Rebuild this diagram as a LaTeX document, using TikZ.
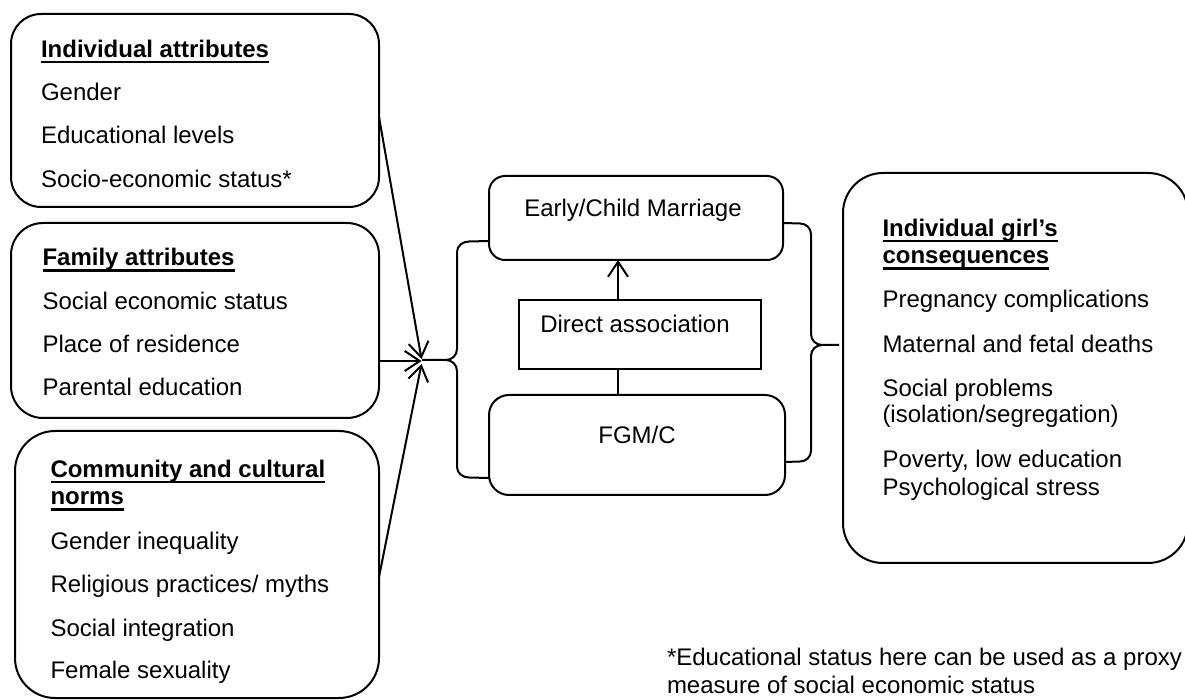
\documentclass[tikz,border=0pt]{standalone}
\usepackage{fontspec}
\setmainfont{Liberation Sans}
\usetikzlibrary{arrows.meta}
\newsavebox\ulbox
\newcommand\hul[1]{\sbox\ulbox{#1}\rlap{\rule[-2.8pt]{\wd\ulbox}{1.1pt}}\usebox\ulbox}
\begin{document}
\begin{tikzpicture}[x=0.5pt,y=-0.5pt,line width=1pt,
  txt/.style={anchor=base west,inner sep=0pt,font=\fontsize{12pt}{14pt}\selectfont},
  ctxt/.style={anchor=base,inner sep=0pt,font=\fontsize{12pt}{14pt}\selectfont},
  hd/.style={txt,font=\fontsize{12pt}{14pt}\selectfont\bfseries},
  rbox/.style={draw,inner sep=0pt,outer sep=0pt},
  arr/.style={-{Straight Barb[length=7.5pt,width=10pt]},line width=1pt}]
\useasboundingbox (0,0) rectangle (1185,700);
% boxes
\node[rbox,rounded corners=15pt,minimum width=184pt,minimum height=96.5pt] (b1) at (195,110.5) {};
\node[rbox,rounded corners=16pt,minimum width=184pt,minimum height=97.5pt] (b2) at (195,320.5) {};
\node[rbox,rounded corners=20pt,minimum width=182pt,minimum height=133.5pt] (b3) at (197,564.5) {};
\node[rbox,rounded corners=8pt,minimum width=147pt,minimum height=42pt] (em) at (636,218) {};
\node[rbox,line width=0.6pt,minimum width=121pt,minimum height=34.5pt] (da) at (640,334.5) {};
\node[rbox,rounded corners=10pt,minimum width=148pt,minimum height=50pt] (fg) at (637,445) {};
\node[rbox,rounded corners=20pt,minimum width=172.5pt,minimum height=195pt] (rb) at (1015.5,368) {};
% box 1 text
\node[hd] (t1a) at (40,57.3) {\hul{Individual attributes}};
\node[txt] (t1b) at (40,100.7) {Gender};
\node[txt] (t1c) at (40,144) {Educational levels};
\node[txt] (t1d) at (40,187.3) {Socio-economic status*};
% box 2 text
\node[hd] (t2a) at (41.5,266) {\hul{Family attributes}};
\node[txt] (t2b) at (41.5,309.5) {Social economic status};
\node[txt] (t2c) at (41.5,353) {Place of residence};
\node[txt] (t2d) at (41.5,396) {Parental education};
% box 3 text
\node[hd] (t3a) at (49.5,477.7) {\hul{Community and cultural}};
\node[hd] (t3b) at (49.5,505) {\hul{norms}};
\node[txt] (t3c) at (49.5,549.3) {Gender inequality};
\node[txt] (t3d) at (49.5,592.7) {Religious practices/ myths};
\node[txt] (t3e) at (49.5,636) {Social integration};
\node[txt] (t3f) at (49.5,678) {Female sexuality};
% centre text
\node[ctxt] (tem) at (633,216.7) {Early/Child Marriage};
\node[ctxt] (tda) at (635,332.7) {Direct association};
\node[ctxt] (tfg) at (637,443.3) {FGM/C};
% right box text
\node[hd] (t4a) at (881.5,236.7) {\hul{Individual girl’s}};
\node[hd] (t4b) at (881.5,264) {\hul{consequences}};
\node[txt] (t4c) at (881.5,308) {Pregnancy complications};
\node[txt] (t4d) at (881.5,353) {Maternal and fetal deaths};
\node[txt] (t4e) at (881.5,396.7) {Social problems};
\node[txt] (t4f) at (881.5,423) {(isolation/segregation)};
\node[txt] (t4g) at (881.5,468) {Poverty, low education};
\node[txt] (t4h) at (881.5,495) {Psychological stress};
% footnote
\node[txt] (fn1) at (666,665) {*Educational status here can be used as a proxy};
\node[txt] (fn2) at (666,693) {measure of social economic status};
% converging arrows
\coordinate (cv1) at (421.5,359);
\coordinate (cv2) at (421.5,361);
\coordinate (cv3) at (421.5,364);
\draw[arr] ([yshift=-3.25pt]b1.east) -- (cv1);
\draw[arr] ([yshift=-20.25pt]b2.east) -- (cv2);
\draw[arr] ([yshift=-6.25pt]b3.east) -- (cv3);
% left brace
\coordinate (lt) at (422,360);
\draw ([yshift=-11.5pt]em.west) -- (469,241.5) to[out=180,in=90] (457,252) -- (457,349)
      to[out=-90,in=0] (446,360) -- (lt);
\draw (446,360) to[out=0,in=90] (457,371) -- (457,467) to[out=-90,in=180] (469,477.5)
      -- ([yshift=-16.5pt]fg.west);
% right brace
\coordinate (rt) at (839,345);
\draw ([yshift=-2.5pt]em.east) -- (800,223.5) to[out=0,in=90] (811,234) -- (811,334)
      to[out=-90,in=180] (822,345) -- (rt);
\draw (822,345) to[out=180,in=90] (811,356) -- (811,451) to[out=-90,in=0] (800,461.5)
      -- ([yshift=-8.5pt]fg.east);
% direct association
\draw[arr] ([xshift=-11pt]da.north) -- ([xshift=-9pt]em.south);
\draw ([xshift=-11pt]da.south) -- ([xshift=-9.5pt]fg.north);
\end{tikzpicture}
\end{document}
